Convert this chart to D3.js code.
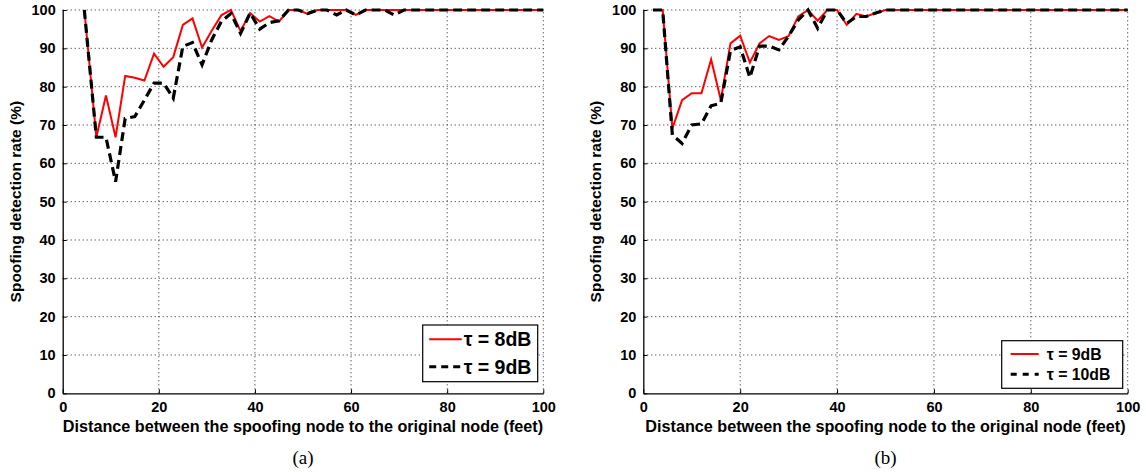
<!DOCTYPE html>
<html><head><meta charset="utf-8">
<script src="https://cdn.jsdelivr.net/npm/d3@7"></script>
<style>
body{margin:0;background:#fff;}
svg{display:block;}
</style></head>
<body>
<svg id="c" width="1146" height="472"></svg>
<script>
const xTicks = [0,20,40,60,80,100];
const yTicks = [0,10,20,30,40,50,60,70,80,90,100];
const xLabel = "Distance between the spoofing node to the original node (feet)";
const yLabel = "Spoofing detection rate (%)";

const xA = [4.5,7,9,11,13,15,17,19,21,23,25,27,29,31,33,35,37,39,41,43,45,47,49,51,53,55,57,59,61,63,65,67,69,71,73,75,77,79,81,83,85,87,89,91,93,95,97,99,100];
const redA = [100,66.8,77.7,66.8,82.8,82.3,81.6,88.6,85.2,87.7,96.1,97.8,90.2,94.6,98.6,100,94.5,99.2,97,98.4,97,100,100,99,100,100,100,100,98.7,100,
  100,100,100,100,100,100,100,100,100,100,100,100,100,100,100,100,100,100,100];
const blackA = [100,66.8,66.8,55.2,71.7,72.2,76.5,80.9,80.9,77,90.5,91.5,85.7,92.2,97,99.1,93.9,99.2,95,96.7,97.2,100,100,99.1,100,100,98.7,100,98.7,100,
  100,100,98.7,100,100,100,100,100,100,100,100,100,100,100,100,100,100,100,100];

const xB = [2,4,6,8,10,12,14,16,18,20,22,24,26,28,30,32,34,36,38,40,42,44,46,48,50,52,54,56,58,60,62,64,66,68,70,72,74,76,78,80,82,84,86,88,90,92,94,96,98,100];
const redB = [100,100,69.1,76.5,78.3,78.3,87.1,76.5,91.3,93.3,86.3,91.3,93.2,92.2,93.2,98.3,100,97.2,100,100,96.1,99,98.3,99.2,100,
  100,100,100,100,100,100,100,100,100,100,100,100,100,100,100,100,100,100,100,100,100,100,100,100,100];
const blackB = [100,100,67.4,65.2,70,70.3,75,75.7,89.4,90.4,82.4,90.6,90.6,89.6,93.2,97.4,100,95.2,100,100,96.5,98.3,98.3,99.2,100,
  100,100,100,100,100,100,100,100,100,100,100,100,100,100,100,100,100,100,100,100,100,100,100,100,100];

const legendA = ["\u03c4 = 8dB","\u03c4 = 9dB"];
const legendB = ["\u03c4 = 9dB","\u03c4 = 10dB"];
const captions = ["(a)","(b)"];

const SANS = "Liberation Sans, Arial, sans-serif";
const svg = d3.select("#c");

function panel(cfg){
  const g = svg.append("g");
  const x = d3.scaleLinear().domain([0,100]).range([cfg.x0,cfg.x1]);
  const y = d3.scaleLinear().domain([0,100]).range([393.3,10]);
  // grid
  g.append("g").selectAll("line").data(xTicks.filter(d=>d>0)).join("line")
    .attr("x1",d=>x(d)).attr("x2",d=>x(d)).attr("y1",y(0)).attr("y2",y(100))
    .attr("stroke","#222").attr("stroke-width",1).attr("stroke-dasharray","1,3");
  g.append("g").selectAll("line").data(yTicks.filter(d=>d>0)).join("line")
    .attr("x1",x(0)).attr("x2",x(100)).attr("y1",d=>y(d)).attr("y2",d=>y(d))
    .attr("stroke","#222").attr("stroke-width",1).attr("stroke-dasharray","1,3");
  // axes
  const ax = g.append("g").attr("transform",`translate(0,${y(0)})`)
    .call(d3.axisBottom(x).tickValues(xTicks).tickSizeInner(-4).tickSizeOuter(0).tickPadding(8));
  const ay = g.append("g").attr("transform",`translate(${x(0)},0)`)
    .call(d3.axisLeft(y).tickValues(yTicks).tickSizeInner(-4).tickSizeOuter(0).tickPadding(7));
  [ax,ay].forEach(a=>{
    a.select(".domain").attr("stroke","#000").attr("stroke-width",1.3);
    a.selectAll(".tick line").attr("stroke","#000");
    a.selectAll("text").attr("font-size",14.5).attr("font-family",SANS).attr("font-weight","bold").attr("fill","#000");
  });
  // lines
  const line = d3.line().x(d=>x(d[0])).y(d=>y(d[1]));
  g.append("path").datum(cfg.xs.map((v,i)=>[v,cfg.red[i]])).attr("d",line)
    .attr("fill","none").attr("stroke","#ff0000").attr("stroke-width",2);
  g.append("path").datum(cfg.xs.map((v,i)=>[v,cfg.black[i]])).attr("d",line)
    .attr("fill","none").attr("stroke","#000").attr("stroke-width",3.2).attr("stroke-dasharray","9,5");
  // labels
  g.append("text").attr("x",(cfg.x0+cfg.x1)/2).attr("y",432).attr("text-anchor","middle")
    .attr("font-family",SANS).attr("font-weight","bold").attr("font-size",16.2).text(xLabel);
  g.append("text").attr("transform",`translate(${cfg.x0-42},${y(50)}) rotate(-90)`)
    .attr("text-anchor","middle").attr("font-family",SANS).attr("font-weight","bold")
    .attr("font-size",15.5).text(yLabel);
  g.append("text").attr("x",(cfg.x0+cfg.x1)/2).attr("y",464).attr("text-anchor","middle")
    .attr("font-family","Liberation Serif, Times New Roman, serif").attr("font-weight","normal")
    .attr("font-size",19).text(cfg.caption);
  // legend
  const L = cfg.leg;
  g.append("rect").attr("x",L.x).attr("y",L.y).attr("width",L.w).attr("height",L.h)
    .attr("fill","#fff").attr("stroke","#000").attr("stroke-width",1.2);
  const rows = [{c:"#ff0000",w:2,dash:null},{c:"#000",w:3,dash:L.dash}];
  rows.forEach((r,i)=>{
    const yy = L.y + L.r0 + i*L.dy;
    g.append("line").attr("x1",L.x+L.lx0).attr("x2",L.x+L.lx1).attr("y1",yy).attr("y2",yy)
      .attr("stroke",r.c).attr("stroke-width",r.w).attr("stroke-dasharray",r.dash);
    g.append("text").attr("x",L.x+L.tx).attr("y",yy).attr("dy","0.36em")
      .attr("font-family",SANS).attr("font-weight","bold")
      .attr("font-size",L.fs).text(cfg.legend[i]);
  });
}

panel({x0:62.7,x1:543.3,xs:xA,red:redA,black:blackA,legend:legendA,caption:captions[0],
  leg:{x:422.7,y:325,w:115,h:56.7,r0:14.3,dy:27.4,lx0:6.5,lx1:39,tx:41,fs:19.5,dash:"7,5"}});
panel({x0:643.3,x1:1127.7,xs:xB,red:redB,black:blackB,legend:legendB,caption:captions[1],
  leg:{x:1001.7,y:340.7,w:121,h:47.6,r0:13.3,dy:20.3,lx0:9,lx1:37,tx:45,fs:15.8,dash:"6,6"}});
</script>
</body></html>
